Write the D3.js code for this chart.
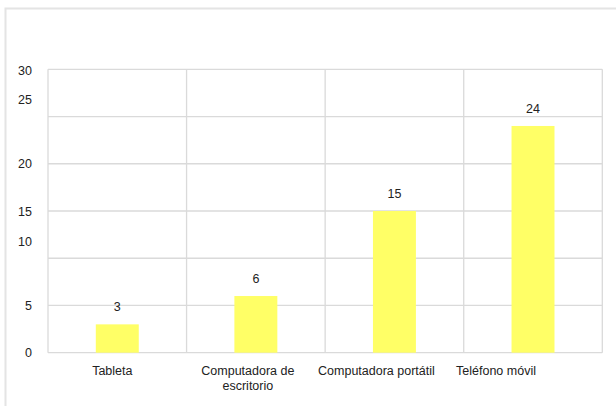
<!DOCTYPE html>
<html>
<head>
<meta charset="utf-8">
<script src="https://cdn.jsdelivr.net/npm/d3@7/dist/d3.min.js"></script>
<style>
  html, body { margin: 0; padding: 0; background: #ffffff; }
  svg { display: block; font-family: "Liberation Sans", Arial, sans-serif; }
</style>
</head>
<body>
<svg id="chart" width="616" height="406"></svg>
<script>
// ---- data ----
const categories = [["Tableta"], ["Computadora de", "escritorio"], ["Computadora portátil"], ["Teléfono móvil"]];
const values = [3, 6, 15, 24];
const gridValues = [0, 5, 10, 15, 20, 25, 30];
const tickLabels = ["0", "5", "10", "15", "20", "25", "30"];
// where the (misplaced) labels sit on the value scale, as in the reference
const tickLabelAt = [0, 5, 11.8, 15, 20, 26.85, 29.9];

// ---- layout ----
const W = 616, H = 406;
const plot = { left: 48, right: 602.3, top: 69.3, bottom: 352.7 };
const labelShift = [-5, -8, -18, -37];

const svg = d3.select("#chart");

// outer frame
svg.append("path")
  .attr("d", `M5.5,${H} L5.5,8.5 L${W},8.5`)
  .attr("fill", "none")
  .attr("stroke", "#e4e4e4")
  .attr("stroke-width", 2);

const x = d3.scaleBand()
  .domain(d3.range(categories.length))
  .range([plot.left, plot.right])
  .paddingInner(0.69)
  .paddingOuter(0.345);

const xOuter = d3.scaleBand()
  .domain(d3.range(categories.length))
  .range([plot.left, plot.right])
  .padding(0);

const y = d3.scaleLinear().domain([0, 30]).range([plot.bottom, plot.top]);

// horizontal gridlines
svg.append("g").selectAll("line").data(gridValues).join("line")
  .attr("x1", plot.left).attr("x2", plot.right)
  .attr("y1", d => y(d)).attr("y2", d => y(d))
  .attr("stroke", "#dadada").attr("stroke-width", 1.3);

// vertical gridlines at category boundaries
const bounds = d3.range(categories.length + 1).map(i => i < categories.length ? xOuter(i) : plot.right);
svg.append("g").selectAll("line").data(bounds).join("line")
  .attr("x1", d => d).attr("x2", d => d)
  .attr("y1", plot.top).attr("y2", plot.bottom)
  .attr("stroke", "#dadada").attr("stroke-width", 1.3);

// bars
svg.append("g").selectAll("rect").data(values).join("rect")
  .attr("x", (d, i) => x(i))
  .attr("width", x.bandwidth())
  .attr("y", d => y(d))
  .attr("height", d => y(0) - y(d))
  .attr("fill", "#ffff66");

// value labels
svg.append("g").selectAll("text").data(values).join("text")
  .attr("x", (d, i) => x(i) + x.bandwidth() / 2)
  .attr("y", d => y(d) - 13)
  .attr("text-anchor", "middle")
  .attr("font-size", 12.5)
  .attr("fill", "#222")
  .text(d => d);

// y tick labels
svg.append("g").selectAll("text").data(tickLabels).join("text")
  .attr("x", 32)
  .attr("y", (d, i) => y(tickLabelAt[i]))
  .attr("dy", "0.36em")
  .attr("text-anchor", "end")
  .attr("font-size", 12.5)
  .attr("fill", "#222")
  .text(d => d);

// category labels
const cat = svg.append("g").selectAll("text").data(categories).join("text")
  .attr("x", (d, i) => xOuter(i) + xOuter.bandwidth() / 2 + labelShift[i])
  .attr("y", 375)
  .attr("text-anchor", "middle")
  .attr("font-size", 12.5)
  .attr("fill", "#222");
cat.selectAll("tspan").data((d, i) => d.map(t => ({ t, i }))).join("tspan")
  .attr("x", d => xOuter(d.i) + xOuter.bandwidth() / 2 + labelShift[d.i])
  .attr("dy", (d, j) => j === 0 ? 0 : 15)
  .text(d => d.t);
</script>
</body>
</html>
